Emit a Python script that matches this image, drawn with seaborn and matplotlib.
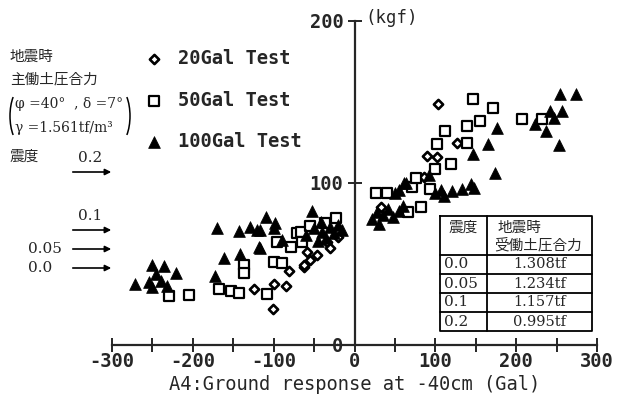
import matplotlib
matplotlib.use('Agg')
import matplotlib.pyplot as plt
from matplotlib.ticker import MultipleLocator
from matplotlib.patches import Arc
import seaborn as sns

# 20 Gal test (diamonds)
g20_x = [-123.8, -100.6, -99.0, -84.5, -81.3, -62.7, -61.9, -58.5, -54.5, -46.2,
         -33.8, -29.7, -20.7, 33.0, 85.8, 89.1, 102.4, 127.1, 103.6]
g20_y = [34.4, 22.2, 37.7, 36.6, 45.7, 48.0, 49.4, 57.6, 52.5, 55.6,
         63.8, 59.7, 66.9, 85.4, 103.9, 116.7, 116.2, 124.5, 148.8]

# 50 Gal test (squares)
g50_x = [-229.8, -204.2, -167.9, -152.2, -142.3, -137.0, -137.0, -108.0, -99.9, -90.3,
         -95.7, -78.3, -70.9, -66.8, -64.7, -54.5, -35.9, -23.5, 26.9, 40.5,
         66.0, 71.4, 75.5, 81.7, 93.2, 100.2, 102.4, 111.4, 119.7, 138.6,
         138.6, 146.4, 155.1, 171.7, 207.5, 232.3]
g50_y = [30.2, 30.9, 34.6, 33.3, 32.3, 49.4, 44.3, 31.5, 51.4, 50.8,
         63.8, 60.7, 69.0, 69.9, 63.8, 73.5, 75.5, 78.2, 94.0, 94.0,
         82.3, 97.7, 103.3, 85.4, 96.1, 108.5, 123.9, 132.1, 111.5, 124.9,
         135.4, 151.7, 138.3, 146.1, 139.3, 139.3]

# 100 Gal test (triangles)
g100_x = [-271.0, -254.6, -250.4, -250.4, -245.0, -238.9, -236.0, -231.8, -220.3, -172.0,
          -161.8, -142.0, -169.9, -143.2, -129.6, -120.4, -118.4, -116.3, -116.3, -108.9,
          -97.8, -99.9, -89.5, -52.4, -60.0, -50.0, -45.0, -40.0, -35.0, -30.0,
          -25.0, -20.0, -15.0, -42.0,
          22.0, 28.0, 35.0, 42.0, 48.0, 55.0, 30.0, 60.0, 50.7, 54.8,
          61.0, 63.1, 92.0, 100.2, 106.4, 110.5, 120.0, 132.4, 143.6, 147.6,
          173.3, 146.0, 165.0, 175.7, 222.8, 237.3, 252.8, 246.7, 241.3, 257.1,
          253.7, 274.4]
g100_y = [37.5, 39.1, 36.0, 49.4, 43.8, 39.5, 49.0, 36.4, 44.6, 42.6,
          53.5, 56.2, 72.0, 70.6, 72.7, 71.0, 60.7, 71.0, 59.7, 78.8,
          75.1, 72.0, 64.8, 82.9, 68.0, 72.0, 64.0, 70.0, 66.0, 73.0,
          69.0, 74.0, 71.0, 76.0,
          78.0, 82.0, 80.0, 84.0, 79.0, 83.0, 75.0, 86.0, 93.6, 95.7,
          99.8, 100.2, 104.9, 94.0, 95.7, 92.0, 95.2, 96.1, 99.4, 96.7,
          106.4, 117.7, 123.9, 133.8, 136.2, 132.1, 123.5, 139.9, 144.6, 144.6,
          154.8, 154.9]

# table of passive earth pressure
seis_coef = ['0.0', '0.05', '0.1', '0.2']
passive_force = ['1.308tf', '1.234tf', '1.157tf', '0.995tf']

sns.set_style('white')
plt.rcParams['font.family'] = ['DejaVu Sans Mono', 'Noto Sans CJK JP']
plt.rcParams['font.weight'] = 'bold'
plt.rcParams['axes.unicode_minus'] = False
JP = ['DejaVu Serif', 'Noto Sans CJK JP']

fig = plt.figure(figsize=(6.24, 3.98), dpi=100)
ax = fig.add_axes([112 / 624, 53 / 398, 485 / 624, 324 / 398])

sns.scatterplot(x=g20_x, y=g20_y, marker='D', s=22, color='white', edgecolor='black',
                linewidth=1.9, label='20Gal Test', ax=ax, zorder=3)
sns.scatterplot(x=g50_x, y=g50_y, marker='s', s=48, color='white', edgecolor='black',
                linewidth=1.6, label='50Gal Test', ax=ax, zorder=3)
sns.scatterplot(x=g100_x, y=g100_y, marker='^', s=72, color='black', edgecolor='black',
                linewidth=0.5, label='100Gal Test', ax=ax, zorder=3)

ax.set_xlim(-300, 300)
ax.set_ylim(0, 200)
ax.spines[['top', 'right']].set_visible(False)
ax.spines['left'].set_position(('data', 0))
for s in ['left', 'bottom']:
    ax.spines[s].set_linewidth(1.6)
ax.set_xticks(range(-300, 301, 100))
ax.xaxis.set_minor_locator(MultipleLocator(50))
ax.set_yticks([0, 100, 200])
ax.tick_params(axis='both', which='both', direction='inout', length=10, width=1.4,
               labelsize=13.5, pad=3, bottom=True, left=True)
ax.tick_params(axis='x', pad=0)
ax.set_xlabel('A4:Ground response at -40cm (Gal)', fontsize=13.5, labelpad=3)
ax.text(14, 202, '(kgf)', va='center', ha='left', fontsize=12.5, fontweight='normal')

ax.legend(loc='upper left', bbox_to_anchor=(135 / 624, 1 - 40 / 398),
          bbox_transform=fig.transFigure, frameon=False, fontsize=13.5,
          handlelength=1.0, handletextpad=0.8, labelspacing=1.2, borderpad=0)

# overlay in pixel coordinates for annotations and the table
ov = fig.add_axes([0, 0, 1, 1])
ov.set_xlim(0, 624)
ov.set_ylim(398, 0)
ov.axis('off')
ov.patch.set_alpha(0)

kw = dict(family=JP, fontweight='normal', va='center', ha='left')
ov.text(10, 57, '地震時', fontsize=10.5, **kw)
ov.text(10, 80, '主働土圧合力', fontsize=10.5, **kw)
ov.text(15, 104, 'φ =40°  , δ =7°', fontsize=10, **kw)
ov.text(15, 128, 'γ =1.561tf/m³', fontsize=10, **kw)
ov.add_patch(Arc((22, 116), 24, 56, theta1=115, theta2=245, lw=1.1, color='black'))
ov.add_patch(Arc((118, 116), 24, 56, theta1=-65, theta2=65, lw=1.1, color='black'))
ov.text(10, 157, '震度', fontsize=10.5, **kw)

arrow = dict(arrowstyle='-|>', lw=1.2, color='black', mutation_scale=9)
ov.text(90, 158, '0.2', fontsize=11, family=JP, fontweight='normal', ha='center', va='center')
ov.annotate('', xy=(114, 172), xytext=(70, 172), arrowprops=arrow)
ov.text(90, 216, '0.1', fontsize=11, family=JP, fontweight='normal', ha='center', va='center')
ov.annotate('', xy=(114, 230), xytext=(70, 230), arrowprops=arrow)
ov.text(28, 249, '0.05', fontsize=11, **kw)
ov.annotate('', xy=(114, 249), xytext=(70, 249), arrowprops=arrow)
ov.text(28, 268, '0.0', fontsize=11, **kw)
ov.annotate('', xy=(114, 268), xytext=(70, 268), arrowprops=arrow)

# table
x0, x1, x2 = 440, 487, 592
rows = [216, 255, 274, 293, 312, 331]
lw = 1.3
ov.plot([x0, x2, x2, x0, x0], [rows[0], rows[0], rows[-1], rows[-1], rows[0]], color='black', lw=lw)
ov.plot([x1, x1], [rows[0], rows[-1]], color='black', lw=lw)
for r in rows[1:-1]:
    ov.plot([x0, x2], [r, r], color='black', lw=lw)
ov.text((x0 + x1) / 2, 228, '震度', fontsize=10.5, family=JP, fontweight='normal', ha='center', va='center')
ov.text(498, 228, '地震時', fontsize=10.5, **kw)
ov.text(494, 245, '受働土圧合力', fontsize=10.5, **kw)
for i, (c, f) in enumerate(zip(seis_coef, passive_force)):
    yc = (rows[i + 1] + rows[i + 2]) / 2
    ov.text(444, yc, c, fontsize=11, **kw)
    ov.text((x1 + x2) / 2, yc, f, fontsize=10.5, family=JP, fontweight='normal', ha='center', va='center')

fig.savefig('out.png', dpi=100)
